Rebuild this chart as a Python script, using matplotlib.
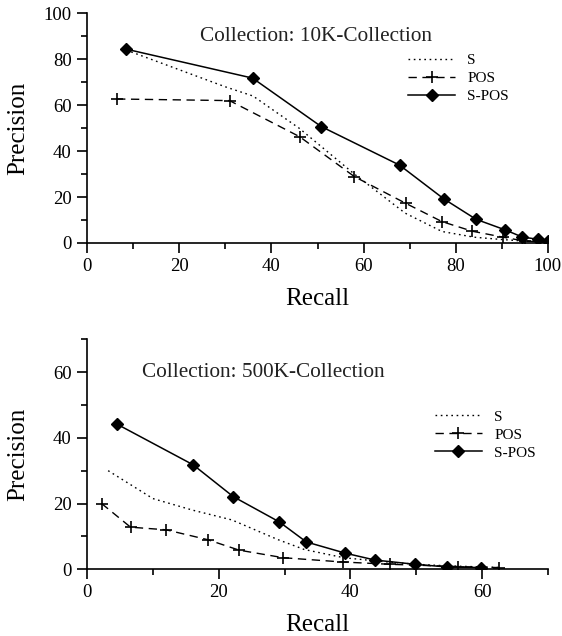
import matplotlib.pyplot as plt
from matplotlib.ticker import MultipleLocator

plt.rcParams['font.family'] = ['Liberation Serif', 'DejaVu Serif']

# 10K collection
rec_s_10k = [8.5, 30, 36, 46, 58, 69, 77, 84, 90, 95, 100]
prec_s_10k = [84, 68, 64, 50, 30, 13, 5, 2.5, 1.5, 0.8, 0.5]
rec_pos_10k = [6.5, 30.9, 46.1, 58.0, 69.1, 77.0, 83.6, 90.3, 95.0, 100]
prec_pos_10k = [62.7, 62.0, 46.3, 28.9, 17.3, 9.3, 5.1, 2.5, 0.8, 0.4]
rec_spos_10k = [8.5, 35.9, 50.8, 67.8, 77.4, 84.4, 90.7, 94.4, 97.8, 100]
prec_spos_10k = [84.4, 71.8, 50.7, 33.9, 19.2, 10.3, 5.7, 2.6, 1.6, 1.0]

# 500K collection
rec_s_500k = [3.2, 10, 16, 22, 29, 33, 39, 44, 50, 55, 60, 63]
prec_s_500k = [30, 21.5, 18, 15, 9, 6, 3.5, 2.5, 1.5, 1.0, 0.7, 0.5]
rec_pos_500k = [2.2, 6.6, 12.0, 18.3, 23.1, 29.8, 38.8, 46.0, 56.4, 62.5]
prec_pos_500k = [20.0, 12.8, 12.0, 9.0, 5.8, 3.5, 2.2, 1.5, 0.8, 0.5]
rec_spos_500k = [4.6, 16.1, 22.2, 29.2, 33.3, 39.2, 43.7, 49.8, 54.6, 59.9]
prec_spos_500k = [44.1, 31.8, 22.1, 14.4, 8.3, 4.9, 2.8, 1.5, 0.7, 0.5]

fig = plt.figure(figsize=(5.62, 6.36), dpi=100)
ax1 = fig.add_axes([0.155, 0.618, 0.820, 0.361])
ax2 = fig.add_axes([0.155, 0.105, 0.820, 0.3615])


def draw(ax, data, xmax, ymax, title, title_xy, leg_xy):
    rs, ps, rp, pp, rsp, psp = data
    ax.plot(rs, ps, color='black', lw=1.0, linestyle=(0, (1.2, 2.6)), label='S')
    ax.plot(rp, pp, color='black', lw=1.0, linestyle=(0, (6, 4)), marker='+',
            markersize=8, markeredgewidth=1.2, label='POS')
    ax.plot(rsp, psp, color='black', lw=1.1, marker='D', markersize=6.5,
            label='S-POS')
    ax.set_xlim(0, xmax)
    ax.set_ylim(0, ymax)
    ax.spines['top'].set_visible(False)
    ax.spines['right'].set_visible(False)
    ax.spines['left'].set_linewidth(1.2)
    ax.spines['bottom'].set_linewidth(1.2)
    ax.xaxis.set_major_locator(MultipleLocator(20))
    ax.xaxis.set_minor_locator(MultipleLocator(10))
    ax.yaxis.set_major_locator(MultipleLocator(20))
    ax.yaxis.set_minor_locator(MultipleLocator(10))
    ax.tick_params(which='major', direction='out', length=7, width=1.2,
                   labelsize=13.5, pad=4)
    ax.tick_params(which='minor', direction='out', length=4, width=1.2)
    ax.set_xlabel('Recall', fontsize=18, labelpad=9)
    ax.set_ylabel('Precision', fontsize=18)
    ax.yaxis.set_label_coords(-0.125, 0.5)
    ax.text(title_xy[0], title_xy[1], title, transform=ax.transAxes,
            fontsize=15.3, va='center', ha='left', color='#222222')
    ax.legend(loc='upper left', bbox_to_anchor=leg_xy, frameon=False,
              fontsize=11, handlelength=3.1, handletextpad=0.8,
              labelspacing=0.28, borderpad=0, borderaxespad=0)


draw(ax1, (rec_s_10k, prec_s_10k, rec_pos_10k, prec_pos_10k,
           rec_spos_10k, prec_spos_10k),
     100, 100, 'Collection: 10K-Collection', (0.246, 0.90), (0.696, 0.825))
draw(ax2, (rec_s_500k, prec_s_500k, rec_pos_500k, prec_pos_500k,
           rec_spos_500k, prec_spos_500k),
     70, 70, 'Collection: 500K-Collection', (0.119, 0.857), (0.754, 0.693))

fig.savefig('out.png', dpi=100)
